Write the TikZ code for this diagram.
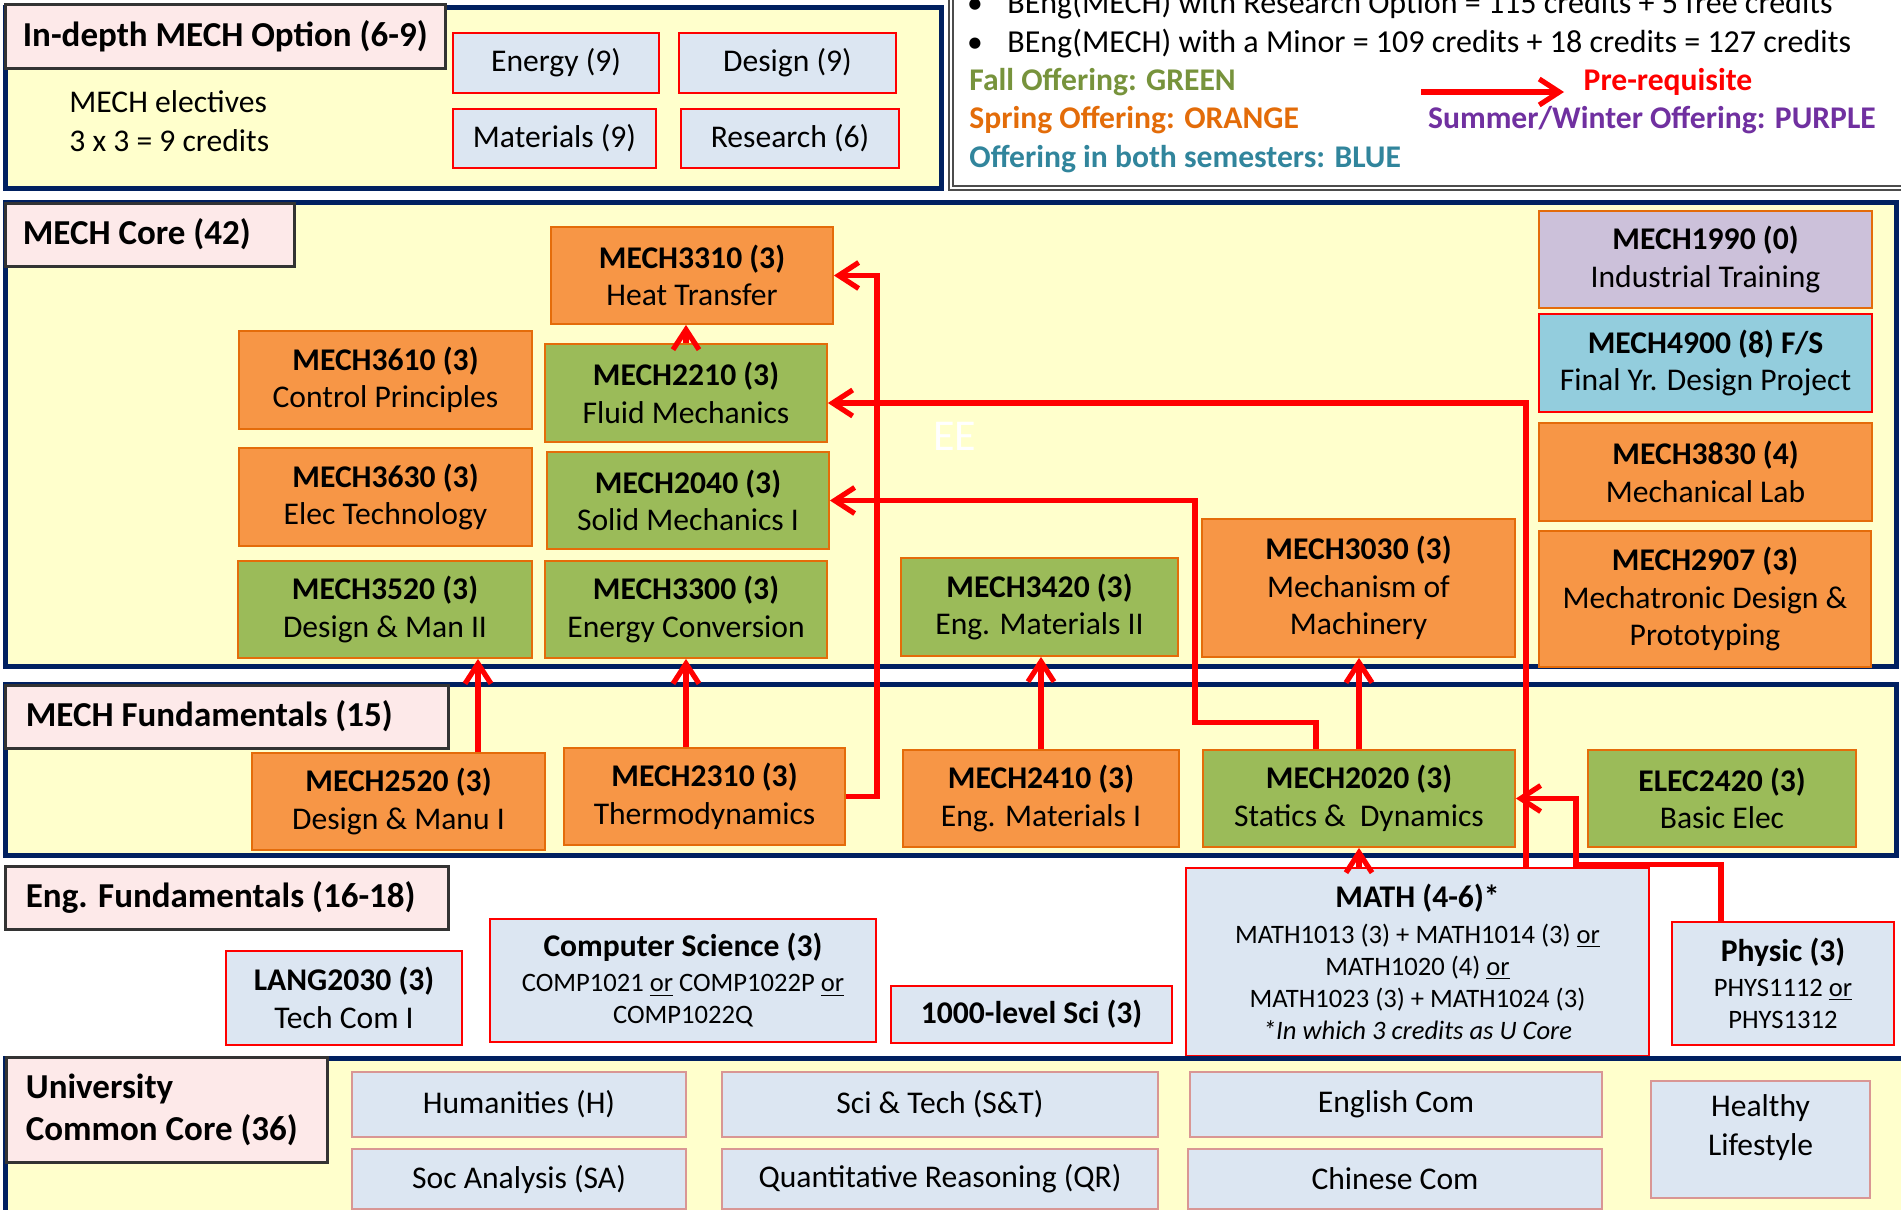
\documentclass[tikz,border=0pt]{standalone}
\usepackage{fontspec}
\setmainfont{Carlito}
\usetikzlibrary{arrows.meta,calc}
\definecolor{ylw}{HTML}{FFFFCC}
\definecolor{navy}{HTML}{002060}
\definecolor{pinkf}{HTML}{FDE9E9}
\definecolor{lblue}{HTML}{DCE6F2}
\definecolor{orf}{HTML}{F79646}
\definecolor{orb}{HTML}{E46C0A}
\definecolor{grf}{HTML}{9BBB59}
\definecolor{puf}{HTML}{CCC1DA}
\definecolor{cyf}{HTML}{93CDDD}
\definecolor{ubd}{HTML}{D99694}
\definecolor{lgreen}{HTML}{77933C}
\definecolor{lorange}{HTML}{E36C09}
\definecolor{lblu}{HTML}{31859C}
\definecolor{lpurple}{HTML}{7030A0}
\newcommand\bodyf{\fontsize{15.8}{18.8}\selectfont}
\newcommand\smallf{\fontsize{13.3}{16}\selectfont}
\newcommand\ttlf{\fontsize{17.5}{21}\selectfont\bfseries}
\begin{document}
\begin{tikzpicture}[x=0.5pt,y=-0.5pt,
  bx/.style n args={4}{minimum width={(#3-#1)*0.5pt}, minimum height={(#4-#2)*0.5pt}, at={({(#1+#3)/2},{(#2+#4)/2})}},
  panel/.style={fill=ylw,draw=navy,line width=2.5pt},
  ttlbox/.style={fill=pinkf,draw=black!80,line width=1.5pt,inner sep=0pt},
  ttltext/.style={anchor=west,font=\ttlf,inner sep=0pt,align=left},
  crs/.style={inner sep=0pt,align=center,font=\bodyf,line width=0.9pt},
  obox/.style={crs,fill=orf,draw=orb},
  gbox/.style={crs,fill=grf,draw=orb},
  pbox/.style={crs,fill=puf,draw=orb},
  cbox/.style={crs,fill=cyf,draw=red},
  lbox/.style={crs,fill=lblue,draw=red},
  ubox/.style={crs,fill=lblue,draw=ubd,line width=0.8pt},
  conn/.style={draw=red,line width=2.6pt,-{Straight Barb[length=10pt,width=13pt]}},
  legtext/.style={anchor=base west,font=\fontsize{16}{19}\selectfont,inner sep=0pt},
  legcol/.style={anchor=base west,font=\bodyf\bfseries,inner sep=0pt}
]
\useasboundingbox (0,0) rectangle (1901,1210);
\clip (0,0) rectangle (1901,1210);

% ---------- In-depth option panel ----------
\draw[panel] (5,7) rectangle (941,188);
\node[ttlbox, bx={5}{4}{445}{68}] (topt) {};
\node[ttltext] (topttx) at ([xshift=9.5pt]topt.west) {In-depth MECH Option (6-9)};
\node[anchor=west,font=\fontsize{15.8}{19.5}\selectfont,align=left,inner sep=0pt] (elec) at (69,121.5) {MECH electives\\3 x 3 = 9 credits};
\node[lbox, bx={453}{33}{659}{93}] (en9) {Energy (9)};
\node[lbox, bx={679}{33}{896}{93}] (de9) {Design (9)};
\node[lbox, bx={453}{109}{656}{168}] (ma9) {Materials (9)};
\node[lbox, bx={681}{109}{899}{168}] (re6) {Research (6)};

% ---------- Legend ----------
\draw[draw=gray!60!black, double=white, double distance=1.2pt, line width=0.7pt] (951,-20) rectangle (1930,188);
\node[anchor=base,font=\bodyf,inner sep=0pt] (bu1) at (975,13) {\textbullet};
\node[legtext] (l1) at (1007,13) {BEng(MECH) with Research Option = 115 credits + 5 free credits};
\node[anchor=base,font=\bodyf,inner sep=0pt] (bu2) at (975,52) {\textbullet};
\node[legtext] (l2) at (1007,52) {BEng(MECH) with a Minor = 109 credits + 18 credits = 127 credits};
\node[legcol,text=lgreen] (fall) at (969,90) {Fall Offering: GREEN};
\node[legcol,text=lorange] (spring) at (969,128) {Spring Offering: ORANGE};
\node[legcol,text=lblu] (both) at (969,167) {Offering in both semesters: BLUE};
\node[anchor=base,font=\bodyf\bfseries,text=red,inner sep=0pt] (prq) at (1668,90) {Pre-requisite};
\node[anchor=base,font=\bodyf\bfseries,text=lpurple,inner sep=0pt] (summ) at (1652,128) {Summer/Winter Offering: PURPLE};
\coordinate (pa) at (1421,92);
\coordinate (pb) at (1564,92);
\draw[conn] (pa) -- (pb);

% ---------- MECH Core ----------
\draw[panel] (5,202) rectangle (1896,666);
\node[ttlbox, bx={5}{203}{294}{266}] (tcore) {};
\node[ttltext] (tcoretx) at ([xshift=9.5pt]tcore.west) {MECH Core (42)};
\node[font=\fontsize{22}{26}\selectfont,text=white,inner sep=0pt] (ee) at (955,436) {EE};
\node[obox, bx={551}{227}{833}{324}] (m3310) {\textbf{MECH3310 (3)}\\Heat Transfer};
\node[obox, bx={239}{331}{532}{429}] (m3610) {\textbf{MECH3610 (3)}\\Control Principles};
\node[gbox, bx={545}{344}{827}{442}] (m2210) {\textbf{MECH2210 (3)}\\Fluid Mechanics};
\node[obox, bx={239}{448}{532}{546}] (m3630) {\textbf{MECH3630 (3)}\\Elec Technology};
\node[gbox, bx={547}{452}{829}{549}] (m2040) {\textbf{MECH2040 (3)}\\Solid Mechanics I};
\node[gbox, bx={238}{561}{532}{658}] (m3520) {\textbf{MECH3520 (3)}\\Design \& Man II};
\node[gbox, bx={545}{561}{827}{658}] (m3300) {\textbf{MECH3300 (3)}\\Energy Conversion};
\node[gbox, bx={901}{558}{1178}{656}] (m3420) {\textbf{MECH3420 (3)}\\Eng. Materials II};
\node[obox, bx={1202}{519}{1515}{657}] (m3030) {\textbf{MECH3030 (3)}\\Mechanism of\\Machinery};
\node[pbox, bx={1539}{211}{1872}{308}] (m1990) {\textbf{MECH1990 (0)}\\Industrial Training};
\node[cbox, bx={1539}{314}{1872}{412}] (m4900) {\textbf{MECH4900 (8) F/S}\\Final Yr. Design Project};
\node[obox, bx={1539}{423}{1872}{521}] (m3830) {\textbf{MECH3830 (4)}\\Mechanical Lab};
\node[obox, bx={1539}{531}{1871}{667}] (m2907) {\textbf{MECH2907 (3)}\\Mechatronic Design \&\\Prototyping};

% ---------- MECH Fundamentals ----------
\draw[panel] (5,684) rectangle (1896,855);
\node[ttlbox, bx={5}{685}{448}{748}] (tfund) {};
\node[ttltext] (tfundtx) at ([xshift=11pt]tfund.west) {MECH Fundamentals (15)};
\node[obox, bx={252}{753}{545}{850}] (m2520) {\textbf{MECH2520 (3)}\\Design \& Manu I};
\node[obox, bx={564}{748}{845}{845}] (m2310) {\textbf{MECH2310 (3)}\\Thermodynamics};
\node[obox, bx={903}{750}{1179}{847}] (m2410) {\textbf{MECH2410 (3)}\\Eng. Materials I};
\node[gbox, bx={1203}{750}{1515}{847}] (m2020) {\textbf{MECH2020 (3)}\\Statics \&\ \ Dynamics};
\node[gbox, bx={1588}{750}{1856}{847}] (e2420) {\textbf{ELEC2420 (3)}\\Basic Elec};

% ---------- Eng. Fundamentals ----------
\node[ttlbox, bx={5}{866}{448}{929}] (teng) {};
\node[ttltext] (tengtx) at ([xshift=11pt]teng.west) {Eng. Fundamentals (16-18)};
\node[lbox, bx={226}{951}{462}{1045}] (lang) {\textbf{LANG2030 (3)}\\Tech Com I};
\node[lbox, bx={490}{919}{876}{1042}, font=\smallf] (comp) {{\bodyf\textbf{Computer Science (3)}}\\[1.5pt]COMP1021 \underline{or} COMP1022P \underline{or}\\COMP1022Q};
\node[lbox, bx={891}{986}{1172}{1043}] (sci) {\textbf{1000-level Sci (3)}};
\node[lbox, bx={1186}{868}{1649}{1056}, font=\smallf] (math) {{\bodyf\textbf{MATH (4-6)*}}\\[2pt]MATH1013 (3) + MATH1014 (3) \underline{or}\\MATH1020 (4) \underline{or}\\MATH1023 (3) + MATH1024 (3)\\\textit{*In which 3 credits as U Core}};
\node[lbox, bx={1672}{922}{1894}{1045}, font=\smallf] (phys) {{\bodyf\textbf{Physic (3)}}\\[1.5pt]PHYS1112 \underline{or}\\PHYS1312};

% ---------- University Common Core ----------
\draw[panel] (5,1058) rectangle (1920,1240);
\node[ttlbox, bx={6}{1057}{327}{1162}] (tuni) {};
\node[ttltext] (tunitx) at ([xshift=10.5pt]tuni.west) {University\\Common Core (36)};
\node[ubox, bx={352}{1072}{686}{1137}] (hum) {Humanities (H)};
\node[ubox, bx={722}{1072}{1158}{1137}] (sat) {Sci \& Tech (S\&T)};
\node[ubox, bx={1190}{1072}{1602}{1137}] (engc) {English Com};
\node[ubox, bx={352}{1149}{686}{1209}] (soc) {Soc Analysis (SA)};
\node[ubox, bx={722}{1149}{1158}{1209}] (qr) {Quantitative Reasoning (QR)};
\node[ubox, bx={1188}{1149}{1602}{1209}] (chi) {Chinese Com};
\node[ubox, bx={1651}{1081}{1870}{1198}, font=\fontsize{15.8}{19.5}\selectfont, text depth=14pt] (hl) {Healthy\\Lifestyle};

% ---------- Connectors ----------
\draw[conn] (m2210.north) -- (m2210.north |- m3310.south);
\coordinate (s2) at ([xshift=39.75pt]m2520.north);
\draw[conn] (s2) -- (s2 |- m3520.south);
\coordinate (s3) at ([xshift=-9.25pt]m2310.north);
\draw[conn] (s3) -- (s3 |- m3300.south);
\coordinate (k4) at ([xshift=21.5pt]m3310.east);
\draw[conn] (m2310.east) -| (k4) -- (m3310.east);
\draw[conn] (m2410.north) -- (m2410.north |- m3420.south);
\draw[conn] (m2020.north) -- (m2020.north |- m3030.south);
\coordinate (s7) at ([xshift=-21.5pt]m2020.north);
\coordinate (k7) at ([xshift=182.5pt]m2040.east);
\draw[conn] (s7) -- ++(0,13.5pt) -| (k7) -- (m2040.east);
\coordinate (s8) at (m2020.south |- math.north);
\draw[conn] (s8) -- (m2020.south);
\coordinate (s9) at ([xshift=54.25pt]math.north);
\coordinate (t9) at ([yshift=-5pt]m2210.east);
\draw[conn] (s9) |- (t9);
\coordinate (s10) at ([xshift=-31pt]phys.north);
\coordinate (k10) at ([xshift=30pt]m2020.east);
\draw[conn] (s10) -- ++(0,28.5pt) -| (k10) -- (m2020.east);
\end{tikzpicture}
\end{document}
